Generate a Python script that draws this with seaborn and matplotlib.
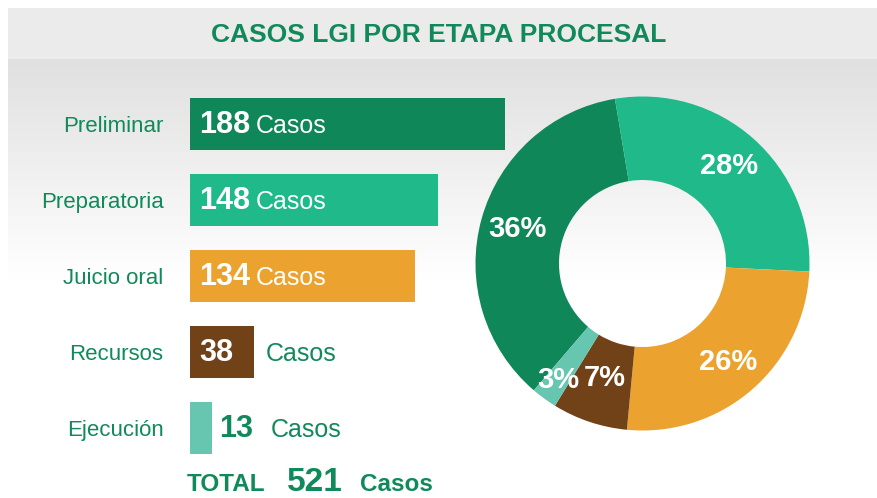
import numpy as np
import pandas as pd
import matplotlib
matplotlib.use("Agg")
import matplotlib.pyplot as plt
import seaborn as sns

# ---- data ----
categories = ["Preliminar", "Preparatoria", "Juicio oral", "Recursos", "Ejecución"]
casos = [188, 148, 134, 38, 13]
pct_labels = ["36%", "28%", "26%", "7%", "3%"]
total = 521
title = "CASOS LGI POR ETAPA PROCESAL"
unit = "Casos"

colors = ["#0f8759", "#1fb98a", "#eca22f", "#714218", "#66c6b0"]
green = "#108a5a"

W, H = 878, 498
DPI = 100
sns.set_theme(style="white")
plt.rcParams["font.family"] = ["Liberation Sans", "DejaVu Sans"]

fig = plt.figure(figsize=(W / DPI, H / DPI), dpi=DPI)
fig.patch.set_facecolor("white")

def fx(px):
    return px / W

def fy(py):
    return 1 - py / H

# ---- background (title band + gradient) ----
bg = fig.add_axes([0, 0, 1, 1], zorder=-10)
img = np.ones((H, W, 3))
rows = np.arange(H)
g = np.where(rows < 59, 235 / 255.0,
             np.clip(224 + (rows - 59) * (31 / 220.0), 224, 255) / 255.0)
g[rows < 8] = 1.0
img[:, :, :] = g[:, None, None]
img[:, :8, :] = 1.0
bg.imshow(img, aspect="auto", extent=[0, W, H, 0], interpolation="bilinear")
bg.set_xlim(0, W)
bg.set_ylim(H, 0)
bg.axis("off")

fig.text(fx(439), fy(35), title, ha="center", va="center",
         fontsize=19, fontweight="bold", color=green)

# ---- bars ----
df = pd.DataFrame({"cat": categories, "casos": casos})
axb = fig.add_axes([fx(190), fy(466), fx(315), (466 - 86) / H])
sns.barplot(data=df, y="cat", x="casos", hue="cat", palette=colors,
            orient="h", width=0.68, saturation=1, legend=False, ax=axb,
            linewidth=0)
axb.set_xlim(0, max(casos))
axb.set_ylim(len(categories) - 0.5, -0.5)
axb.set_facecolor("none")
for s in axb.spines.values():
    s.set_visible(False)
axb.set_xlabel("")
axb.set_ylabel("")
axb.set_xticks([])
axb.tick_params(axis="y", length=0, pad=19, labelsize=16, labelcolor=green)

for i, v in enumerate(casos):
    num_inside = v >= 30
    casos_inside = v >= 100
    if num_inside:
        num = axb.annotate(str(v), xy=(0, i), xytext=(6.5, -6.5),
                           textcoords="offset points", ha="left", va="baseline",
                           fontsize=22, fontweight="bold", color="white")
    else:
        num = axb.annotate(str(v), xy=(v, i), xytext=(5, -6.5),
                           textcoords="offset points", ha="left", va="baseline",
                           fontsize=22, fontweight="bold", color=green)
    if casos_inside:
        axb.annotate(unit, xy=(1, i), xycoords=(num, "data"), xytext=(4, -6.5),
                     textcoords="offset points", ha="left", va="baseline",
                     fontsize=18, color="white")
    elif num_inside:
        axb.annotate(unit, xy=(v, i), xytext=(9, -6.5),
                     textcoords="offset points", ha="left", va="baseline",
                     fontsize=18, color=green)
    else:
        axb.annotate(unit, xy=(1, i), xycoords=(num, "data"), xytext=(13, -6.5),
                     textcoords="offset points", ha="left", va="baseline",
                     fontsize=18, color=green)

# ---- total ----
fig.text(fx(187), fy(491), "TOTAL", ha="left", va="baseline",
         fontsize=17.5, fontweight="bold", color=green)
fig.text(fx(287), fy(491), str(total), ha="left", va="baseline",
         fontsize=24, fontweight="bold", color=green)
fig.text(fx(360), fy(491), unit, ha="left", va="baseline",
         fontsize=17.5, fontweight="bold", color=green)

# ---- donut ----
R = 167
cx, cy = 642.5, 263.5
axp = fig.add_axes([fx(cx - R), fy(cy + R), fx(2 * R), 2 * R / H])
start = 99.5 + casos[0] / total * 360
wedges, texts = axp.pie(casos, colors=colors, startangle=start,
                        counterclock=False, labels=pct_labels,
                        labeldistance=0.78,
                        wedgeprops=dict(width=0.5, linewidth=0),
                        textprops=dict(color="white", fontsize=21,
                                       fontweight="bold", ha="center",
                                       va="center"))
# spread the two small-slice labels radially so they do not collide
for w, t, v in zip(wedges, texts, casos):
    share = v / total
    if share < 0.05:
        r = 0.86
    elif share < 0.10:
        r = 0.72
    else:
        continue
    mid = np.deg2rad((w.theta1 + w.theta2) / 2)
    t.set_position((r * np.cos(mid), r * np.sin(mid)))

axp.set_xlim(-1, 1)
axp.set_ylim(-1, 1)
axp.set_aspect("equal")
axp.axis("off")

fig.savefig("out.png", dpi=DPI, facecolor=fig.get_facecolor())
